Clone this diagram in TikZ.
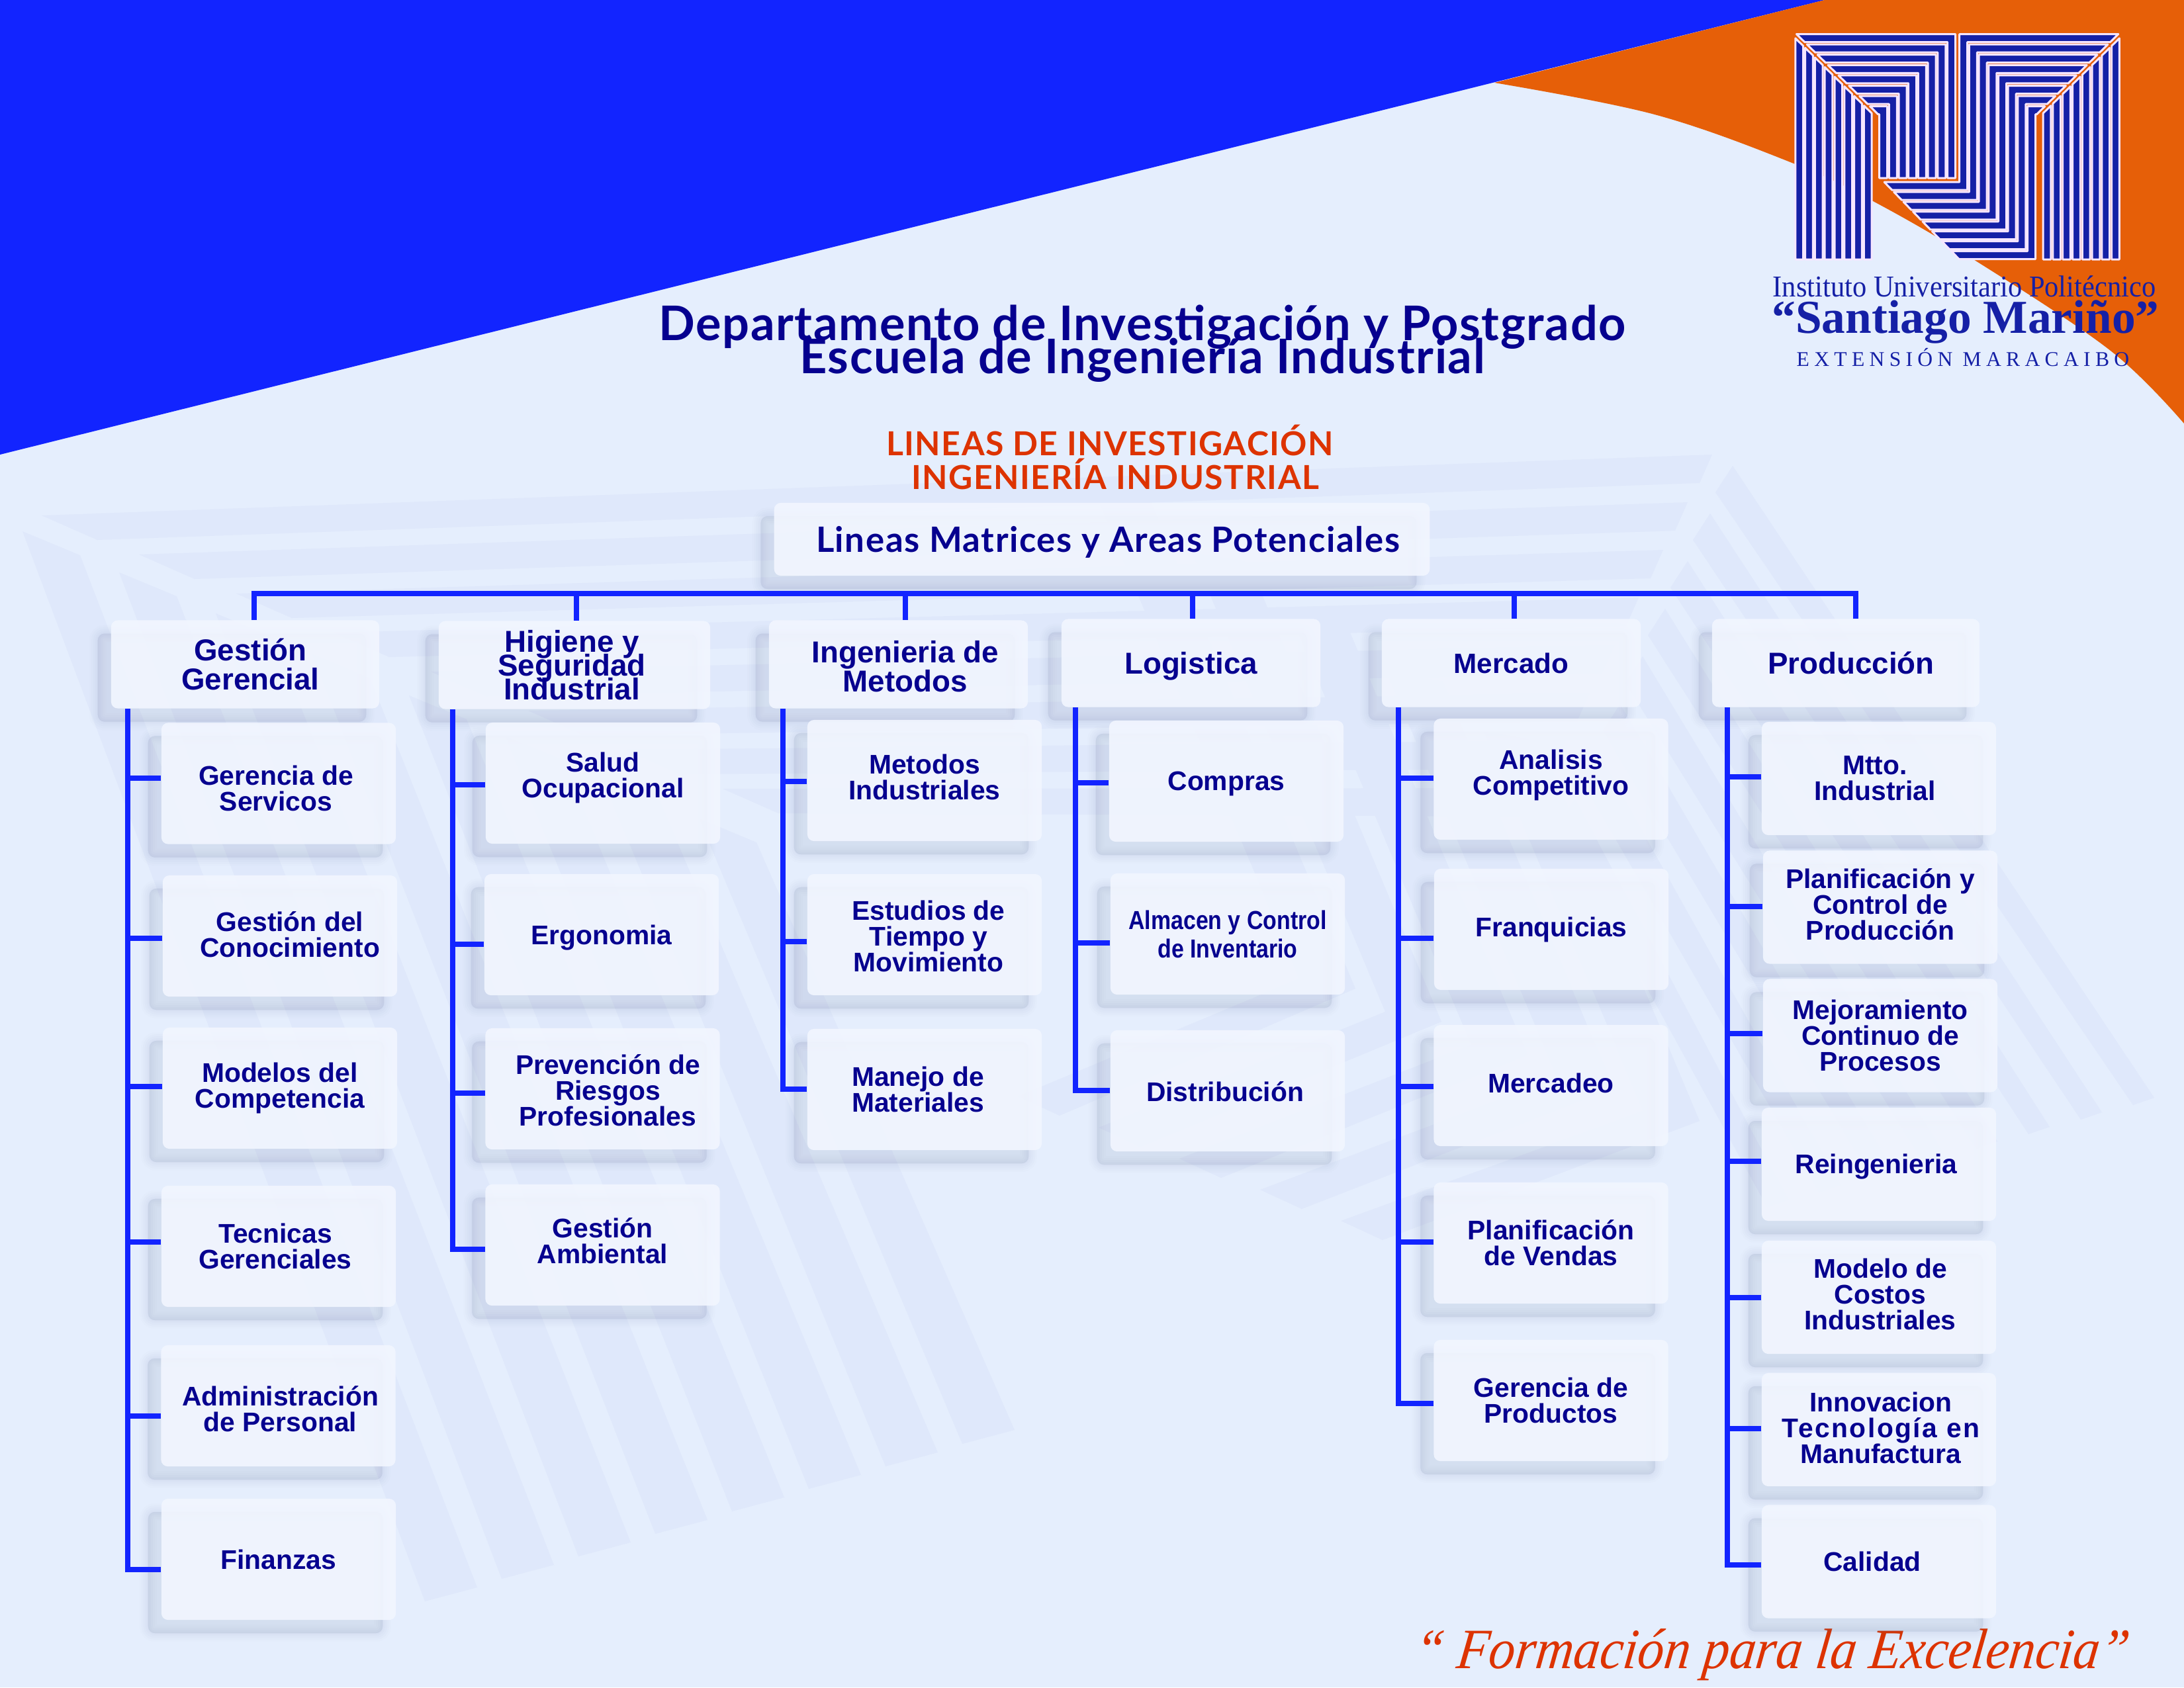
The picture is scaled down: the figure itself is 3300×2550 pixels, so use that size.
\documentclass[tikz,border=0pt]{standalone}
\usepackage{fontspec}
\setmainfont{Liberation Sans}
\newfontfamily\titlefont[LetterSpace=2.2]{Lato}
\newfontfamily\subtitlefont[LetterSpace=3]{Lato}
\newfontfamily\condfont[FakeStretch=.86]{Liberation Sans}
\newfontfamily\logofont{Liberation Serif}
\newfontfamily\logonarrow[FakeStretch=.93]{Liberation Serif}
\newfontfamily\slogfont[FakeStretch=.92,FakeSlant=.12]{Liberation Serif}
\usepackage{xcolor}
\usepackage{tikz}
\usetikzlibrary{shadows}
\lineskiplimit=-100pt
\definecolor{pagebg}{HTML}{E5EEFD}
\definecolor{wmark}{HTML}{DFE8FB}
\definecolor{topblue}{HTML}{1224FF}
\definecolor{toporange}{HTML}{E65F08}
\definecolor{navy}{HTML}{06008F}
\definecolor{redtxt}{HTML}{DD3300}
\definecolor{logoblue}{HTML}{1520A6}
\definecolor{logoedge}{HTML}{F5E6FF}
\definecolor{boxfill}{HTML}{F2F6FF}
\definecolor{shade}{HTML}{5A6A9A}
\tikzset{
    softshadow/.style={
        general shadow={shadow xshift=-2mm, shadow yshift=-2mm, fill=shade, draw=shade, line width=2.6mm, fill opacity=.012, draw opacity=.012},
        general shadow={shadow xshift=-2mm, shadow yshift=-2mm, fill=shade, draw=shade, line width=2mm, fill opacity=.018, draw opacity=.015},
        general shadow={shadow xshift=-2mm, shadow yshift=-2mm, fill=shade, draw=shade, line width=1.4mm, fill opacity=.022, draw opacity=.018},
        general shadow={shadow xshift=-2mm, shadow yshift=-2mm, fill=shade, draw=shade, line width=.8mm, fill opacity=.025, draw opacity=.02},
        general shadow={shadow xshift=-2mm, shadow yshift=-2mm, fill=shade, draw=shade, line width=.3mm, fill opacity=.03, draw opacity=.02}
    },
    boxtext/.style={text=navy, align=center, font=\bfseries\fontsize{11.6}{11.1}\selectfont},
    headtext/.style={boxtext, font=\bfseries\fontsize{13}{12.6}\selectfont},
    block/.style={
        rectangle, rounded corners=1mm, fill=boxfill, fill opacity=.9, text opacity=1,
        inner sep=0pt, softshadow, boxtext
    },
    headbox/.style={block, minimum width=3.91cm, minimum height=1.33cm, headtext},
    subbox/.style={block, minimum width=3.54cm, minimum height=1.83cm},
    lowbox/.style={block, minimum width=3.54cm, minimum height=1.71cm},
    line/.style={draw=topblue, line width=2.2pt, line join=miter},
    wmstripe/.style={fill=wmark},
    logostripe/.style={fill=logoblue, draw=logoedge, line width=.85pt, line join=round},
    logotext/.style={text=logoblue, inner sep=0pt}
}
\begin{document}
\begin{tikzpicture}[x=0.01cm, y=-0.01cm]
    \useasboundingbox (0,0) rectangle (3300,2550);
    \fill [pagebg] (0,0) rectangle (3300,2550);

    % Watermark
    \foreach \i in {0,...,7} {
        \fill [wmstripe] ({34+146*\i},{803+62*\i}) -- ({121+146*\i},{839+62*\i})
            -- ({721+116*\i},{2399-34*\i}) -- ({642+116*\i},{2420-34*\i}) -- cycle;
        \fill [wmstripe] ({63+147*\i},{779+59*\i}) -- ({2587-37*\i},{687+72*\i})
            -- ({2568-37*\i},{730+72*\i}) -- ({147+147*\i},{816+59*\i}) -- cycle;
        \fill [wmstripe] ({2618-34*\i},{704+72*\i}) -- ({3255-79*\i},{1659+22*\i})
            -- ({3223-79*\i},{1670+22*\i}) -- ({2592-34*\i},{744+72*\i}) -- cycle;
    }
    \foreach \i in {0,...,4} {
        \pgfmathsetmacro{\cx}{2048+130*\i}
        \pgfmathsetmacro{\cy}{1494+50*\i}
        \pgfmathsetmacro{\hh}{734-40*\i}
        \fill [wmstripe] ({\cx-.42*\hh},{\cy-\hh}) -- (\cx,\cy)
            -- ({1601+122*\i},{1686+47*\i}) -- ({1538+122*\i},{1657+47*\i})
            -- ({\cx-85},{\cy-15}) -- ({\cx-85-.42*\hh},{\cy-15-\hh}) -- cycle;
    }

    % Corner shapes
    \fill [topblue] (0,0) -- (2757,0) -- (0,687) -- cycle;
    \fill [toporange] (3300,0) -- (2757,0)
        -- plot [smooth, tension=.6] coordinates {(2258,125) (2500,173) (2710,247) (2832,305) (2985,394) (3189,530) (3300,640)}
        -- cycle;

    % Logo
    \foreach \i in {0,...,7} {
        \pgfmathsetmacro{\xa}{2712.8+14.8*\i}
        \pgfmathsetmacro{\xb}{\xa+11.7}
        \filldraw [logostripe] (\xa,392) -- (\xa,{59+(\xa-2714)*.983}) -- (\xb,{59+(\xb-2714)*.983}) -- (\xb,392) -- cycle;
        \filldraw [logostripe] ({5915.2-\xa},392) -- ({5915.2-\xa},{59+(\xa-2714)*.983}) -- ({5915.2-\xb},{59+(\xb-2714)*.983}) -- ({5915.2-\xb},392) -- cycle;
        \pgfmathsetmacro{\yt}{51.5+15.6*\i}
        \pgfmathsetmacro{\yb}{\yt+12}
        \pgfmathsetmacro{\xt}{2718+(\yt-55)/.983}
        \pgfmathsetmacro{\xu}{2718+(\yb-55)/.983}
        \pgfmathsetmacro{\rr}{2954.5-14.7*\i}
        \filldraw [logostripe] (\xt,\yt) -- (\rr,\yt) -- (\rr,269) -- ({\rr-12},269) -- ({\rr-12},\yb) -- (\xu,\yb) -- cycle;
        \pgfmathsetmacro{\ll}{2960.7+14.7*\i}
        \pgfmathsetmacro{\yc}{275.2+14.9*\i}
        \pgfmathsetmacro{\yd}{\yc+12}
        \filldraw [logostripe] (\ll,\yt) -- ({5915.2-\xt},\yt) -- ({5915.2-\xu},\yb) -- ({\ll+12},\yb)
            -- ({\ll+12},\yd) -- ({2846+(\yd-274)*.97},\yd) -- ({2846+(\yc-274)*.97},\yc) -- (\ll,\yc) -- cycle;
    }
    \node [logotext, font=\logonarrow\fontsize{13}{13}\selectfont] (institute) at (2968,433) {Instituto Universitario Politécnico};
    \node [logotext, font=\logofont\bfseries\fontsize{20.3}{20.3}\selectfont] (santiago) at (2970,486) {“Santiago Mariño”};
    \node [logotext, font=\logofont\fontsize{9}{9}\selectfont] (extension) at (2966,540) {\addfontfeature{LetterSpace=23}EXTENSIÓN MARACAIBO};

    % Titles
    \node [text=navy, align=center, font=\titlefont\bfseries\fontsize{20.5}{14.2}\selectfont] (title) at (1726,519)
        {Departamento de Investigación y Postgrado\\Escuela de Ingeniería Industrial};
    \node [text=redtxt, font=\subtitlefont\bfseries\fontsize{14.2}{14.2}\selectfont] (lineasinv) at (1677,665) {LINEAS DE INVESTIGACIÓN};
    \node [text=redtxt, font=\subtitlefont\bfseries\fontsize{14.2}{14.2}\selectfont] (ingind) at (1685,716) {INGENIERÍA INDUSTRIAL};
    \node [block, minimum width=9.9cm, minimum height=1.1cm,
        label={[text=navy, font=\subtitlefont\bfseries\fontsize{15}{15}\selectfont, shift={(9,4)}]center:{Lineas Matrices y Areas Potenciales}}] (matrices) at (1665,815) {};
    \node [text=redtxt, font=\slogfont\itshape\fontsize{24.5}{24.5}\selectfont] (slogan) at (2675,2501) {“ Formación para la Excelencia”};

    % Headers
    \node [headbox, minimum width=4.05cm, label={[headtext, shift={(8,0)}]center:{Gestión\\Gerencial}}] (gesgerencial) at (370.5,1004) {};
    \node [headbox, minimum width=4.1cm, label={[headtext, font=\bfseries\fontsize{13}{10.2}\selectfont, shift={(-4,0)}]center:{Higiene y\\Seguridad\\Industrial}}] (higiene) at (868,1005) {};
    \node [headbox, label={[headtext, shift={(10,3)}]center:{Ingenieria de\\Metodos}}] (ingmetodos) at (1357.5,1004) {};
    \node [headbox, text depth=0pt] (logistica) at (1799.5,1002) {Logistica};
    \node [headbox, font=\bfseries\fontsize{12}{12}\selectfont] (mercado) at (2283.5,1002) {Mercado};
    \node [headbox, minimum width=4.04cm, label={[headtext, shift={(8,0)}]center:{Producción}}] (produccion) at (2789,1002) {};

    % Gestion Gerencial
    \node [subbox, label={[boxtext, shift={(-4,7)}]center:{Gerencia de\\Servicos}}] (gerservicios) at (421,1184) {};
    \node [subbox, label={[boxtext, shift={(15,-2)}]center:{Gestión del\\Conocimiento}}] (conocimiento) at (423,1414.5) {};
    \node [subbox] (modelos) at (423,1644.5) {Modelos del\\Competencia};
    \node [subbox, label={[boxtext, shift={(-5,0)}]center:{Tecnicas\\Gerenciales}}] (tecnicas) at (421,1883.5) {};
    \node [subbox, label={[boxtext, shift={(3,5)}]center:{Administración\\de Personal}}] (administracion) at (420.5,2124.5) {};
    \node [subbox] (finanzas) at (421,2356.5) {Finanzas};

    % Higiene y Seguridad
    \node [subbox, label={[boxtext, shift={(0,-8)}]center:{Salud\\Ocupacional}}] (salud) at (911,1183.5) {};
    \node [subbox, text depth=0pt] (ergonomia) at (909,1412.5) {Ergonomia};
    \node [subbox, label={[boxtext, shift={(8,2)}]center:{Prevención de\\Riesgos\\Profesionales}}] (prevencion) at (910.5,1645.5) {};
    \node [subbox, label={[boxtext, shift={(0,-6)}]center:{Gestión\\Ambiental}}] (ambiental) at (910.5,1881.5) {};

    % Ingenieria de Metodos
    \node [subbox, label={[boxtext, shift={(0,-5)}]center:{Metodos\\Industriales}}] (metodos) at (1397,1179.5) {};
    \node [subbox, label={[boxtext, shift={(6,2)}]center:{Estudios de\\Tiempo y\\Movimiento}}] (estudios) at (1397,1412.5) {};
    \node [subbox, label={[boxtext, shift={(-10,0)}]center:{Manejo de\\Materiales}}] (manejo) at (1397,1646.5) {};

    % Logistica
    \node [subbox, text depth=0pt] (compras) at (1853,1180.5) {Compras};
    \node [subbox, font=\condfont\bfseries\fontsize{11.2}{12.2}\selectfont] (almacen) at (1855,1411.5) {Almacen y Control\\de Inventario};
    \node [subbox, label={[boxtext, shift={(-4,1)}]center:{Distribución}}] (distribucion) at (1855,1648.5) {};

    % Mercado
    \node [subbox, label={[boxtext, shift={(0,-6)}]center:{Analisis\\Competitivo}}] (analisis) at (2343.5,1177.5) {};
    \node [subbox] (franquicias) at (2344,1404.5) {Franquicias};
    \node [subbox, label={[boxtext, shift={(0,-4)}]center:{Mercadeo}}] (mercadeo) at (2343.5,1640.5) {};
    \node [subbox] (planvendas) at (2343.5,1878.5) {Planificación\\de Vendas};
    \node [subbox] (gerproductos) at (2343.5,2116.5) {Gerencia de\\Productos};

    % Produccion
    \node [lowbox, label={[boxtext, shift={(-6,0)}]center:{Mtto.\\Industrial}}] (mtto) at (2839,1176.5) {};
    \node [lowbox, label={[boxtext, shift={(0,-4)}]center:{Planificación y\\Control de\\Producción}}] (planproduccion) at (2841,1371) {};
    \node [lowbox] (mejoramiento) at (2841,1565) {Mejoramiento\\Continuo de\\Procesos};
    \node [lowbox, label={[boxtext, shift={(-4,4)}]center:{Reingenieria}}] (reingenieria) at (2839,1759.5) {};
    \node [lowbox, label={[boxtext, shift={(2,-5)}]center:{Modelo de\\Costos\\Industriales}}] (costos) at (2839,1960.5) {};
    \node [lowbox, label={[boxtext, shift={(3,-3)}]center:{Innovacion\\{\addfontfeature{LetterSpace=6}Tecnología en}\\Manufactura}}] (innovacion) at (2839,2160.5) {};
    \node [lowbox, label={[boxtext, shift={(-10,0)}]center:{Calidad}}] (calidad) at (2839,2360) {};

    % Bus and stems
    \coordinate (bus) at (1500,897);
    \draw [line] (gesgerencial.north -| 384,0) |- (bus) -| (produccion.north -| 2804,0);
    \foreach \head/\xs in {higiene/871, ingmetodos/1368, logistica/1802, mercado/2288} {
        \draw [line] (\xs,897) -- (\head.north -| \xs,0);
    }

    % Rails and branches
    \draw [line] (gesgerencial.south -| 193,0) |- (finanzas.west |- 0,2372);
    \foreach \sub/\yb in {gerservicios/1176, conocimiento/1418, modelos/1642, tecnicas/1877, administracion/2140} {
        \draw [line] (193,\yb) -- (\sub.west |- 0,\yb);
    }
    \draw [line] (higiene.south -| 684,0) |- (ambiental.west |- 0,1888);
    \foreach \sub/\yb in {salud/1186, ergonomia/1427, prevencion/1652} {
        \draw [line] (684,\yb) -- (\sub.west |- 0,\yb);
    }
    \draw [line] (ingmetodos.south -| 1183,0) |- (manejo.west |- 0,1646);
    \foreach \sub/\yb in {metodos/1181, estudios/1423} {
        \draw [line] (1183,\yb) -- (\sub.west |- 0,\yb);
    }
    \draw [line] (logistica.south -| 1625,0) |- (distribucion.west |- 0,1648);
    \foreach \sub/\yb in {compras/1183, almacen/1425} {
        \draw [line] (1625,\yb) -- (\sub.west |- 0,\yb);
    }
    \draw [line] (mercado.south -| 2113,0) |- (gerproductos.west |- 0,2121);
    \foreach \sub/\yb in {analisis/1176, franquicias/1418, mercadeo/1642, planvendas/1877} {
        \draw [line] (2113,\yb) -- (\sub.west |- 0,\yb);
    }
    \draw [line] (produccion.south -| 2610,0) |- (calidad.west |- 0,2365);
    \foreach \sub/\yb in {mtto/1174, planproduccion/1370, mejoramiento/1562, reingenieria/1755, costos/1961, innovacion/2159} {
        \draw [line] (2610,\yb) -- (\sub.west |- 0,\yb);
    }
\end{tikzpicture}
\end{document}
